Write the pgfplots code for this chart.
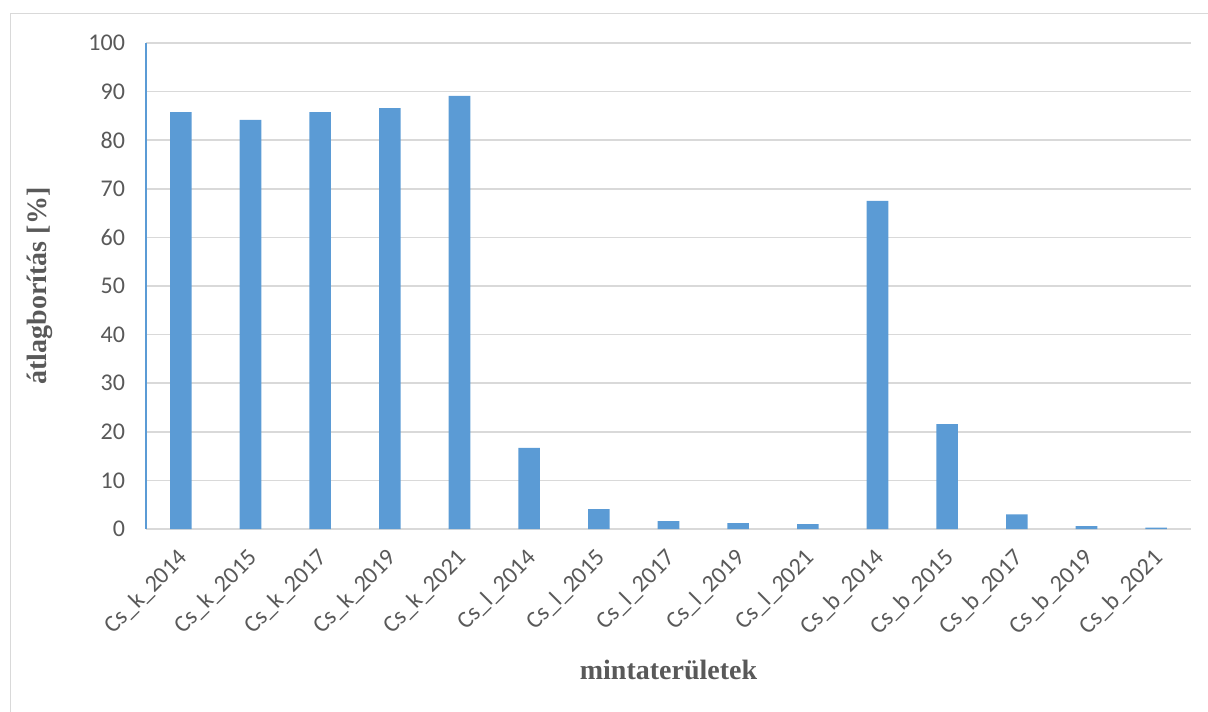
\documentclass[border=0pt]{standalone}
\usepackage{fontspec}
\setmainfont{Carlito}
\newfontfamily\labelfont{Liberation Serif}
\usepackage{pgfplots}
\pgfplotsset{compat=1.18}

\definecolor{barblue}{HTML}{5B9BD5}
\definecolor{gridgray}{HTML}{D9D9D9}
\definecolor{txtgray}{HTML}{595959}

\begin{document}
\begin{tikzpicture}
\begin{axis}[
    scale only axis,
    width=522.5pt, height=243pt,
    ybar, bar width=10.8pt,
    xmin=-0.5, xmax=14.5,
    ymin=0, ymax=100,
    ytick={0,10,...,100},
    xtick={0,...,14},
    xticklabels={Cs\_k\_2014,Cs\_k\_2015,Cs\_k\_2017,Cs\_k\_2019,Cs\_k\_2021,
                 Cs\_l\_2014,Cs\_l\_2015,Cs\_l\_2017,Cs\_l\_2019,Cs\_l\_2021,
                 Cs\_b\_2014,Cs\_b\_2015,Cs\_b\_2017,Cs\_b\_2019,Cs\_b\_2021},
    major tick length=0pt,
    axis lines*=left,
    x axis line style={draw=gridgray, line width=0.75pt},
    y axis line style={draw=barblue, line width=0.75pt},
    ymajorgrids,
    grid style={draw=gridgray, line width=0.75pt},
    /pgf/number format/assume math mode=true,
    tick label style={font=\fontsize{12}{14}\selectfont, text=txtgray},
    yticklabel style={xshift=-7pt},
    xticklabel style={rotate=45, anchor=north east, inner sep=0pt, xshift=-7.8pt, yshift=-4.95pt},
    xlabel={\labelfont\bfseries mintaterületek},
    ylabel={\labelfont\bfseries átlagborítás [\%]},
    label style={font=\fontsize{14}{16}\selectfont, text=txtgray},
    xlabel style={at={(axis description cs:0.5,0)}, anchor=center, yshift=-70.5pt},
    ylabel style={at={(axis description cs:0,0.5)}, anchor=center, yshift=53pt},
]
\addplot[fill=barblue, draw=none] coordinates {
    (0,85.8) (1,84.2) (2,85.8) (3,86.6) (4,89.1)
    (5,16.7) (6,4.1) (7,1.6) (8,1.2) (9,1.0)
    (10,67.5) (11,21.6) (12,3.0) (13,0.6) (14,0.3)
};
\coordinate (O) at (rel axis cs:0,0);
\end{axis}
\draw[gridgray, line width=0.75pt] ([shift={(-67.75pt,-120pt)}]O) -- ([shift={(-67.75pt,257.75pt)}]O) -- ([shift={(560pt,257.75pt)}]O);
\pgfresetboundingbox
\useasboundingbox ([shift={(-73pt,-91pt)}]O) rectangle ([shift={(531pt,264.5pt)}]O);
\end{tikzpicture}
\end{document}
